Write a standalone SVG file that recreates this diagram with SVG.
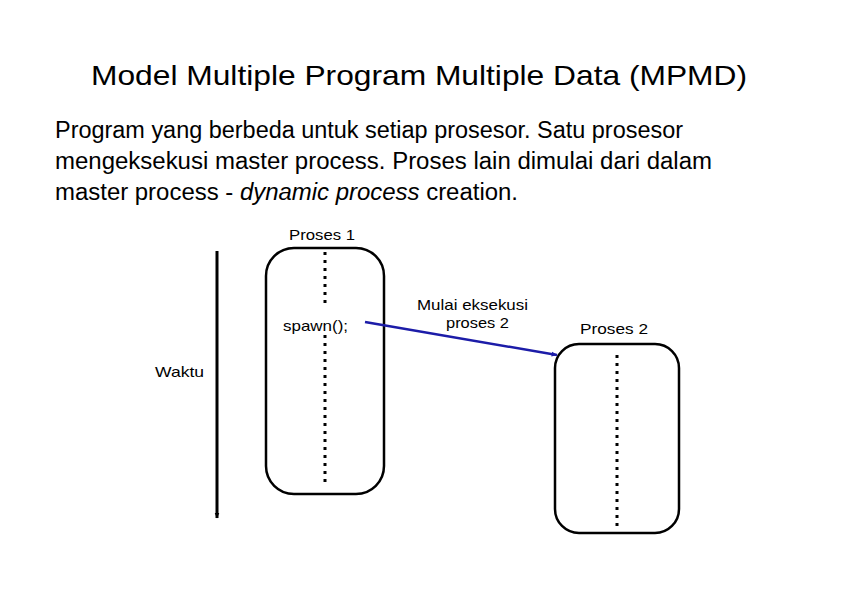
<svg xmlns="http://www.w3.org/2000/svg" width="842" height="596" viewBox="0 0 842 596">
<style>
text{font-family:"Liberation Sans",Arial,sans-serif;fill:#000}
.t{font-size:28px}
.p{font-size:23px}
.s{font-size:15px}
.box{fill:none;stroke:#000;stroke-width:2.5}
.dot{stroke:#000;stroke-width:3;stroke-dasharray:3 5}
</style>
<defs>
<marker id="ab" viewBox="0 0 10 10" refX="9" refY="5" markerWidth="6" markerHeight="6" orient="auto" markerUnits="userSpaceOnUse"><path d="M0,1 L10,5 L0,9 z" fill="#1c1ca8"/></marker>
<marker id="ak" viewBox="0 0 10 10" refX="9" refY="5" markerWidth="6" markerHeight="6" orient="auto" markerUnits="userSpaceOnUse"><path d="M0,1 L10,5 L0,9 z" fill="#000"/></marker>
</defs>
<rect width="842" height="596" fill="#fff"/>
<text class="t" x="91" y="85" textLength="656" lengthAdjust="spacingAndGlyphs">Model Multiple Program Multiple Data (MPMD)</text>
<text class="p" x="55" y="138" textLength="628" lengthAdjust="spacingAndGlyphs">Program yang berbeda untuk setiap prosesor. Satu prosesor</text>
<text class="p" x="55" y="169" textLength="657" lengthAdjust="spacingAndGlyphs">mengeksekusi master process. Proses lain dimulai dari dalam</text>
<text class="p" x="55" y="200" textLength="463" lengthAdjust="spacingAndGlyphs">master process - <tspan font-style="italic">dynamic process</tspan> creation.</text>
<g id="waktu">
<line x1="217" y1="251" x2="217" y2="518" stroke="#000" stroke-width="3" marker-end="url(#ak)"/>
<text class="s" x="155" y="377" textLength="49" lengthAdjust="spacingAndGlyphs">Waktu</text>
</g>
<g id="proses1">
<rect class="box" x="266" y="248" width="118" height="246" rx="28"/>
<line class="dot" x1="325" y1="252" x2="325" y2="305"/>
<line class="dot" x1="325" y1="335" x2="325" y2="484"/>
<text class="s" x="289" y="240" textLength="66" lengthAdjust="spacingAndGlyphs">Proses 1</text>
<text class="s" x="283" y="331" textLength="65" lengthAdjust="spacingAndGlyphs">spawn();</text>
</g>
<g id="proses2">
<rect class="box" x="555" y="344" width="124" height="189" rx="24"/>
<line class="dot" x1="617" y1="355" x2="617" y2="527"/>
<text class="s" x="580" y="334" textLength="68" lengthAdjust="spacingAndGlyphs">Proses 2</text>
</g>
<g id="connectors">
<line x1="365" y1="322" x2="557" y2="355" stroke="#1c1ca8" stroke-width="2.5" marker-end="url(#ab)"/>
<text class="s" x="417" y="310" textLength="111" lengthAdjust="spacingAndGlyphs">Mulai eksekusi</text>
<text class="s" x="446" y="328" textLength="63" lengthAdjust="spacingAndGlyphs">proses 2</text>
</g>
</svg>
